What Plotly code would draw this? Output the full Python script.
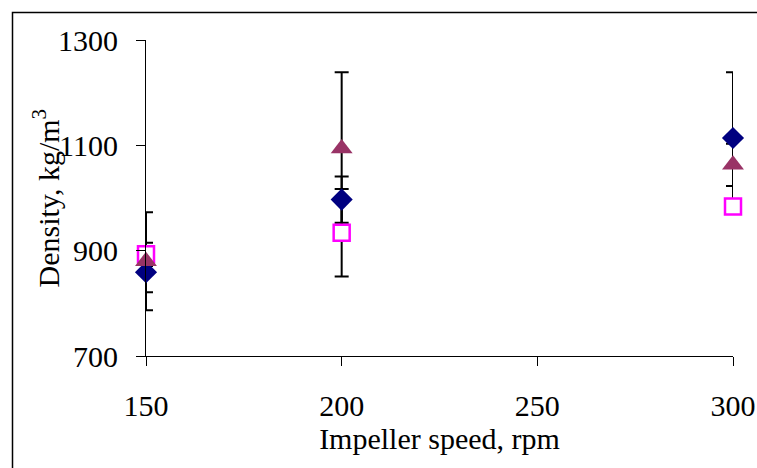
import plotly.graph_objects as go

# Data
speed = [150, 200, 300]                 # Impeller speed, rpm
diamond_vals = [859, 997, 1114]         # navy diamonds
diamond_err = [38, 44, 125]
square_vals = [893, 934, 984]           # magenta open squares
square_err = [22, 83, 10]
triangle_vals = [880, 1094, 1063]       # maroon triangles
triangle_err = [93, 145, 40]

y_ticks = [700, 900, 1100, 1300]
x_ticks = [150, 200, 250, 300]

FONT = "Liberation Serif"
W, H = 757, 468
ML, MR, MT, MB = 146, 24, 40, 112
PW, PH = W - ML - MR, H - MT - MB

fig = go.Figure()

series = [
    (diamond_vals, diamond_err, "diamond", "#000080", "#000080", 17, 0),
    (square_vals, square_err, "square", "white", "#FF00FF", 16, 2.5),
    (triangle_vals, triangle_err, "triangle-up", "#993366", "#993366", 19, 0),
]

# error bars first (drawn beneath all markers)
for vals, err, *_ in series:
    fig.add_trace(go.Scatter(
        x=speed, y=vals, mode="markers",
        marker=dict(size=1, opacity=0),
        error_y=dict(type="data", array=err, visible=True,
                     color="black", thickness=2, width=7),
        cliponaxis=False, showlegend=False, hoverinfo="skip",
    ))

for vals, err, sym, fill, edge, size, lw in series:
    fig.add_trace(go.Scatter(
        x=speed, y=vals, mode="markers",
        marker=dict(symbol=sym, size=size, color=fill,
                    line=dict(color=edge, width=lw)),
        cliponaxis=False, showlegend=False,
    ))

fig.update_layout(
    width=W, height=H,
    margin=dict(l=ML, r=MR, t=MT, b=MB, autoexpand=False),
    paper_bgcolor="white", plot_bgcolor="white",
    font=dict(family=FONT, size=30, color="black"),
    xaxis=dict(
        range=[150, 300], tickvals=x_ticks, ticks="outside", ticklen=9,
        tickwidth=1, tickcolor="black", showline=True, linecolor="black",
        linewidth=1, showgrid=False, zeroline=False, automargin=False,
        ticklabelstandoff=14,
        title=dict(text="Impeller speed, rpm", standoff=2,
                   font=dict(family=FONT, size=30)),
    ),
    yaxis=dict(
        range=[700, 1300], tickvals=y_ticks, ticks="outside", ticklen=9,
        tickwidth=1, tickcolor="black", showline=True, linecolor="black",
        linewidth=1, showgrid=False, zeroline=False, automargin=False,
        ticklabelstandoff=12,
    ),
    annotations=[dict(
        text="Density, kg/m<sup>3</sup>", textangle=-90, showarrow=False,
        xref="paper", yref="paper",
        x=(46.5 - ML) / PW, y=(H - MB - 198) / PH,
        xanchor="center", yanchor="middle",
        font=dict(family=FONT, size=30, color="black"),
    )],
    shapes=[dict(type="rect", xref="paper", yref="paper",
                 x0=(12.5 - ML) / PW, x1=(W + 5 - ML) / PW,
                 y0=-(MB + 5) / PH, y1=(H - MB - 12.5) / PH,
                 line=dict(color="black", width=1.5), layer="above")],
)

fig.write_html("out.html",
               config={"displayModeBar": False},
               post_script="document.body.style.margin='0';"
                           "document.body.style.overflow='hidden';")
